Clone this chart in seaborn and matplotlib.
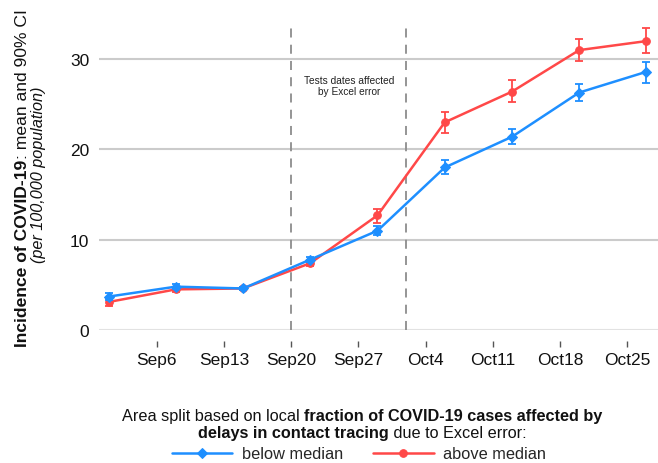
import numpy as np
import pandas as pd
import matplotlib
matplotlib.use("Agg")
import matplotlib.pyplot as plt
import matplotlib.dates as mdates
from matplotlib.transforms import offset_copy
import seaborn as sns

# ---------------- data ----------------
dates = ["2020-09-01", "2020-09-08", "2020-09-15", "2020-09-22", "2020-09-29",
         "2020-10-06", "2020-10-13", "2020-10-20", "2020-10-27"]
below_mean = [3.7, 4.8, 4.6, 7.8, 11.0, 18.0, 21.4, 26.3, 28.6]
below_lo = [3.3, 4.5, 4.4, 7.5, 10.5, 17.3, 20.6, 25.4, 27.4]
below_hi = [4.1, 5.1, 4.8, 8.1, 11.5, 18.8, 22.3, 27.3, 29.7]
above_mean = [3.1, 4.5, 4.6, 7.4, 12.7, 23.0, 26.4, 31.0, 32.0]
above_lo = [2.7, 4.2, 4.4, 7.1, 11.9, 21.8, 25.2, 29.8, 30.7]
above_hi = [3.5, 4.8, 4.8, 7.7, 13.4, 24.2, 27.7, 32.2, 33.4]
series_names = ["below median", "above median"]
tick_dates = ["2020-09-06", "2020-09-13", "2020-09-20", "2020-09-27",
              "2020-10-04", "2020-10-11", "2020-10-18", "2020-10-25"]
tick_labels = ["Sep6", "Sep13", "Sep20", "Sep27", "Oct4", "Oct11", "Oct18", "Oct25"]
ytick_vals = [0, 10, 20, 30]
excel_window = ["2020-09-20", "2020-10-02"]

# ---------------- style ----------------
sns.set_theme(style="white")
plt.rcParams["font.family"] = ["Liberation Sans", "DejaVu Sans"]

BLUE = "#1e8fff"
RED = "#ff4848"

fig = plt.figure(figsize=(6.58, 4.64), dpi=100)
W, H = 658, 464
ax = fig.add_axes([99 / W, 133 / H, 559 / W, 316 / H])

d = pd.to_datetime(dates)
bm, bl, bh = map(np.array, (below_mean, below_lo, below_hi))
am, al, ah = map(np.array, (above_mean, above_lo, above_hi))

# grid
for v in ytick_vals:
    ax.axhline(v, color="#e2e2e2" if v == 0 else "#cbcbcb", lw=1.5, zorder=0)

# dashed window lines
for xd in pd.to_datetime(excel_window):
    ax.vlines(xd, 0, 34.1, colors="#8c8c8c", linestyles=(0, (5, 4)), lw=1.3, zorder=1)

mid = pd.to_datetime(excel_window[0]) + (pd.to_datetime(excel_window[1]) - pd.to_datetime(excel_window[0])) / 2
ax.text(mid, 27.1, "Tests dates affected\nby Excel error", ha="center", va="center",
        fontsize=7.3, color="#222222", linespacing=1.15)

# series (red first, blue on top)
ax.errorbar(d, am, yerr=[am - al, ah - am], fmt="none", ecolor=RED, elinewidth=1.3,
            capsize=3.2, capthick=1.3, zorder=2)
sns.lineplot(x=d, y=am, ax=ax, color=RED, marker="o", markersize=5.5, markeredgecolor=RED,
             lw=1.8, label=series_names[1], zorder=3)
ax.errorbar(d, bm, yerr=[bm - bl, bh - bm], fmt="none", ecolor=BLUE, elinewidth=1.3,
            capsize=3.2, capthick=1.3, zorder=4)
sns.lineplot(x=d, y=bm, ax=ax, color=BLUE, marker="D", markersize=5, markeredgecolor=BLUE,
             lw=1.8, label=series_names[0], zorder=5)

handles, labels = ax.get_legend_handles_labels()
ax.get_legend().remove()
hmap = dict(zip(labels, handles))

# axes
ax.set_ylim(0, 35)
ax.set_xlim(pd.Timestamp("2020-08-31"), pd.Timestamp("2020-10-28 05:00"))
ax.set_yticks(ytick_vals)
ax.set_yticklabels([str(v) for v in ytick_vals])
ax.set_xticks(pd.to_datetime(tick_dates))
ax.set_xticklabels(tick_labels)
for s in ["top", "right", "left"]:
    ax.spines[s].set_visible(False)
ax.spines["bottom"].set_position(("outward", 8))
ax.spines["bottom"].set_visible(False)
ax.tick_params(axis="x", bottom=True, length=4.5, width=1, color="#555555", pad=3,
               labelsize=12.5, labelcolor="#111111")
ax.tick_params(axis="y", left=False, length=0, pad=7, labelsize=12.5, labelcolor="#111111")
ax.set_xlabel("")
ax.set_ylabel("")

# ---------------- rich text helper ----------------
fig.canvas.draw()
renderer = fig.canvas.get_renderer()


def piece_width(s, props):
    t1 = fig.text(0, 0, "x" + s + "x", **props)
    t2 = fig.text(0, 0, "xx", **props)
    w = t1.get_window_extent(renderer).width - t2.get_window_extent(renderer).width
    t1.remove(); t2.remove()
    return w


def rich_line(xpx, ypx, pieces, rotation=0):
    widths = [piece_width(s, p) for s, p in pieces]
    start = -sum(widths) / 2
    x0, y0 = xpx / W, (H - ypx) / H
    for (s, p), w in zip(pieces, widths):
        if rotation == 0:
            tr = offset_copy(fig.transFigure, fig=fig, x=start, y=0, units="dots")
        else:
            tr = offset_copy(fig.transFigure, fig=fig, x=0, y=start, units="dots")
        fig.text(x0, y0, s, transform=tr, rotation=rotation, rotation_mode="anchor",
                 ha="left", va="baseline", **p)
        start += w


reg = dict(fontsize=12.6, color="#111111")
bold = dict(fontsize=12.6, color="#111111", fontweight="bold")
rich_line(27, 178, [("Incidence of COVID-19", bold), (": mean and 90% CI", reg)], rotation=90)
rich_line(43, 175, [("(per 100,000 population)", dict(fontsize=11.7, color="#111111", style="italic"))],
          rotation=90)

lreg = dict(fontsize=11.7, color="#111111")
lbold = dict(fontsize=11.7, color="#111111", fontweight="bold")
rich_line(362, 421, [("Area split based on local ", lreg),
                     ("fraction of COVID-19 cases affected by", lbold)])
rich_line(362, 438, [("delays in contact tracing", lbold), (" due to Excel error:", lreg)])

fig.legend([hmap[n] for n in series_names], series_names, loc="center",
           bbox_to_anchor=(359 / W, 9 / H), ncol=2, frameon=False, fontsize=11.8,
           handlelength=3.7, columnspacing=1.8, handletextpad=0.6, borderaxespad=0,
           borderpad=0)

fig.savefig("out.png", dpi=100)
